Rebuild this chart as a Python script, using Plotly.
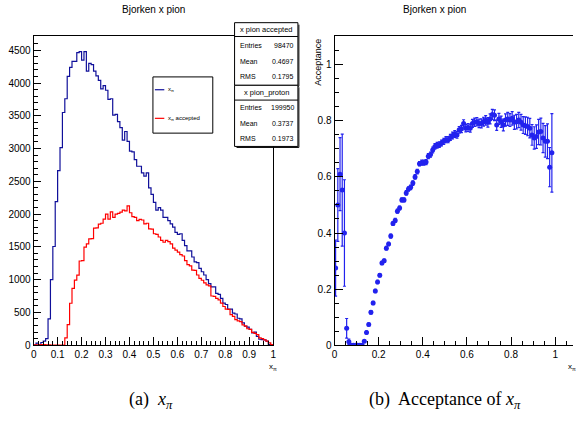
import plotly.graph_objects as go

# ---------------- data ----------------
nbins = 100
x_lo, x_hi = 0.0, 1.0

# x_pi (all) histogram counts, 100 bins from 0 to 1
counts_all = [0, 30, 10, 40, 60, 100, 400, 1000, 1505, 2190,
              2663, 3015, 3550, 3760, 4100, 4240, 4330, 4330, 4465, 4480,
              4350, 4480, 4180, 4300, 4280, 4180, 4110, 4040, 3910, 3960,
              3890, 3750, 3760, 3510, 3520, 3410, 3320, 3130, 3260, 3110,
              2960, 2950, 2830, 2730, 2730, 2630, 2580, 2630, 2400, 2300,
              2180, 2060, 2100, 2060, 1950, 1950, 1900, 1850, 1800, 1720,
              1690, 1700, 1600, 1520, 1440, 1440, 1345, 1270, 1260, 1170,
              1120, 1070, 1000, 940, 890, 890, 790, 775, 715, 640,
              620, 550, 550, 490, 475, 410, 400, 340, 290, 275,
              240, 185, 200, 135, 90, 85, 80, 60, 10, 0]

# x_pi accepted histogram counts
counts_acc = [3, 5, 6, 8, 8, 6, 5, 0, 0, 0,
              0, 0, 0, 110, 312, 639, 866, 992, 1068, 1284,
              1290, 1495, 1545, 1621, 1625, 1787, 1790, 1848, 1860, 1923,
              1999, 1923, 2035, 1950, 2000, 2010, 2030, 2060, 2050, 2125,
              2020, 1960, 1950, 1900, 1920, 1910, 1850, 1860, 1775, 1770,
              1700, 1690, 1650, 1600, 1570, 1600, 1580, 1545, 1480, 1450,
              1420, 1380, 1360, 1290, 1230, 1210, 1145, 1140, 1070, 1020,
              990, 950, 920, 905, 750, 745, 715, 690, 640, 590,
              550, 545, 465, 440, 390, 370, 360, 310, 290, 250,
              240, 195, 180, 160, 110, 100, 80, 60, 35, 10]

# acceptance per bin (None = empty bin)
acceptance = [0.275, 0.50, 0.61, 0.553, 0.40, 0.06, 0.012, 0, 0, 0,
              0, 0, 0, 0.014, 0.045, 0.074, 0.117, 0.150, 0.193, 0.225,
              0.249, 0.293, 0.301, 0.346, 0.361, 0.389, 0.434, 0.445, 0.478, 0.489,
              0.518, 0.518, 0.543, 0.557, 0.563, 0.578, 0.600, 0.619, 0.647, 0.651,
              0.651, 0.653, 0.674, 0.680, 0.696, 0.709, 0.713, 0.715, 0.721, 0.727,
              0.733, 0.733, 0.741, 0.748, 0.753, 0.750, 0.768, 0.771, 0.791, 0.774,
              0.776, 0.774, 0.791, 0.795, 0.797, 0.791, 0.791, 0.797, 0.802, 0.795,
              0.807, 0.823, 0.820, 0.785, 0.807, 0.797, 0.785, 0.803, 0.807, 0.803,
              0.809, 0.795, 0.797, 0.803, 0.795, 0.785, 0.783, 0.780, 0.774, 0.750,
              0.739, 0.744, 0.760, 0.762, 0.739, 0.727, 0.727, 0.635, 0.686, None]

acc_err = [0.10, 0.13, 0.13, 0.20, 0.19, 0.035, 0.01, 0, 0, 0,
           0, 0, 0, 0.004, 0.005, 0.005, 0.006, 0.006, 0.006, 0.006,
           0.006, 0.006, 0.006, 0.006, 0.006, 0.007, 0.007, 0.007, 0.007, 0.007,
           0.007, 0.007, 0.008, 0.008, 0.008, 0.008, 0.008, 0.008, 0.008, 0.009,
           0.009, 0.009, 0.009, 0.009, 0.010, 0.010, 0.010, 0.010, 0.010, 0.011,
           0.011, 0.011, 0.011, 0.012, 0.012, 0.012, 0.012, 0.013, 0.013, 0.013,
           0.014, 0.014, 0.014, 0.015, 0.015, 0.015, 0.016, 0.016, 0.017, 0.017,
           0.018, 0.018, 0.019, 0.019, 0.020, 0.020, 0.021, 0.022, 0.023, 0.023,
           0.024, 0.025, 0.026, 0.027, 0.028, 0.030, 0.031, 0.033, 0.035, 0.037,
           0.040, 0.042, 0.045, 0.048, 0.052, 0.056, 0.062, 0.07, 0.14, 0]

stats_acc = [("Entries", "98470"), ("Mean", "0.4697"), ("RMS", "0.1795")]
stats_all = [("Entries", "199950"), ("Mean", "0.3737"), ("RMS", "0.1973")]

# ---------------- helpers ----------------
W, H = 576, 432
def px(x):
    return x / W
def py(y):
    return 1 - y / H

bw = (x_hi - x_lo) / nbins
edges = [x_lo + bw * i for i in range(nbins + 1)]
centers = [x_lo + bw * (i + 0.5) for i in range(nbins)]

BLUE_H = "#10109a"
BLUE_P = "#2222ee"
RED = "#ff0000"
SANS = "Liberation Sans"
SERIF = "Liberation Serif"

fig = go.Figure()

# histograms (step outlines)
fig.add_trace(go.Scatter(x=[edges[0]] + edges, y=[0] + counts_all + [counts_all[-1]],
                         mode="lines", line=dict(color=BLUE_H, width=1.2, shape="hv"),
                         xaxis="x", yaxis="y", showlegend=False, hoverinfo="skip"))
fig.add_trace(go.Scatter(x=[edges[0]] + edges, y=[0] + counts_acc + [counts_acc[-1]],
                         mode="lines", line=dict(color=RED, width=1.2, shape="hv"),
                         xaxis="x", yaxis="y", showlegend=False, hoverinfo="skip"))

# acceptance points
fig.add_trace(go.Scatter(x=centers, y=acceptance, mode="markers",
                         marker=dict(color=BLUE_P, size=5),
                         error_y=dict(type="data", array=acc_err, color=BLUE_P, thickness=1.2, width=1.5),
                         error_x=dict(type="constant", value=bw / 2, color=BLUE_P, thickness=1, width=0),
                         xaxis="x2", yaxis="y2", showlegend=False))

axis_common = dict(showline=True, linecolor="black", linewidth=1, ticks="inside",
                   tickcolor="black", tickwidth=1, showgrid=False, zeroline=False,
                   tickfont=dict(family=SANS, size=10, color="black"))

ydom = [py(350), py(37)]
fig.update_layout(
    width=W, height=H, margin=dict(l=0, r=0, t=0, b=0),
    paper_bgcolor="white", plot_bgcolor="white",
    xaxis=dict(domain=[px(31), px(273)], range=[0, 1], dtick=0.1, tick0=0, ticklen=8,
               mirror=True, anchor="y",
               minor=dict(dtick=0.02, ticks="inside", ticklen=4, tickcolor="black"),
               **axis_common),
    yaxis=dict(domain=ydom, range=[0, 4710], dtick=500, tick0=0, ticklen=7,
               mirror=True, anchor="x",
               minor=dict(dtick=100, ticks="inside", ticklen=4, tickcolor="black"),
               **axis_common),
    xaxis2=dict(domain=[px(335), 1.0], range=[0, 1.0807], dtick=0.2, tick0=0, ticklen=8,
                mirror=True, anchor="y2",
                minor=dict(dtick=0.05, ticks="inside", ticklen=4, tickcolor="black"),
                **axis_common),
    yaxis2=dict(domain=ydom, range=[0, 1.101], dtick=0.2, tick0=0, ticklen=8,
                mirror=False, anchor="x2",
                minor=dict(dtick=0.05, ticks="inside", ticklen=4, tickcolor="black"),
                **axis_common),
)

ann = []
shapes = []

def text(x, y, t, size, family=SANS, xanchor="center", **kw):
    ann.append(dict(x=px(x), y=py(y), text=t, showarrow=False, xanchor=xanchor,
                    yanchor=kw.pop("yanchor", "middle"), xref="paper", yref="paper",
                    font=dict(family=family, size=size, color="black"), **kw))

# titles
text(152, 10, "Bjorken x pion", 10)
text(436, 10, "Bjorken x pion", 10)
# axis titles
text(267, 372, "x<sub>π</sub>", 8, xanchor="left")
text(569, 372, "x<sub>π</sub>", 8, xanchor="left")
text(318, 37, "Acceptance", 9, textangle=-90, yanchor="top")
# captions
text(150, 406, "(a)  <i>x</i><sub><i>π</i></sub>", 18, family=SERIF)
text(447, 406, "(b)  Acceptance of <i>x</i><sub><i>π</i></sub>", 18, family=SERIF)

# legend box
lx0, lx1, ly0, ly1 = 151.5, 212, 78, 135
shapes.append(dict(type="rect", xref="paper", yref="paper", x0=px(lx0), x1=px(lx1),
                   y0=py(ly1), y1=py(ly0), line=dict(color="black", width=1), fillcolor="white"))
for yy, col, lab in [(91, BLUE_H, "x<sub>π</sub>"), (120, RED, "x<sub>π</sub> accepted")]:
    shapes.append(dict(type="line", xref="paper", yref="paper", x0=px(153.5), x1=px(163),
                       y0=py(yy), y1=py(yy), line=dict(color=col, width=1.2)))
    text(165, yy, lab, 6, xanchor="left")

# stats boxes
sx0, sx1 = 234, 298
def stats_box(top, bottom, sep, title, rows, row_y):
    shapes.append(dict(type="line", xref="paper", yref="paper", x0=px(sx0 + 2), x1=px(sx1 + 1),
                       y0=py(bottom + 1), y1=py(bottom + 1), line=dict(color="black", width=1)))
    shapes.append(dict(type="line", xref="paper", yref="paper", x0=px(sx1 + 1), x1=px(sx1 + 1),
                       y0=py(top + 2), y1=py(bottom + 1), line=dict(color="black", width=1)))
    shapes.append(dict(type="rect", xref="paper", yref="paper", x0=px(sx0), x1=px(sx1),
                       y0=py(bottom), y1=py(top), line=dict(color="black", width=1), fillcolor="white"))
    shapes.append(dict(type="line", xref="paper", yref="paper", x0=px(sx0), x1=px(sx1),
                       y0=py(sep), y1=py(sep), line=dict(color="black", width=1)))
    text((sx0 + sx1) / 2, (top + sep) / 2, title, 7.5)
    for (k, v), yy in zip(rows, row_y):
        text(sx0 + 3, yy, k, 7, xanchor="left")
        text(sx1 - 2, yy, v, 7, xanchor="right")

stats_box(23, 86.5, 37, "x pion accepted", stats_acc, [46, 62.5, 78])
stats_box(86.5, 148.5, 101.5, "x pion_proton", stats_all, [109.5, 125, 140.5])

fig.update_layout(annotations=ann, shapes=shapes)
fig.write_html("out.html")
